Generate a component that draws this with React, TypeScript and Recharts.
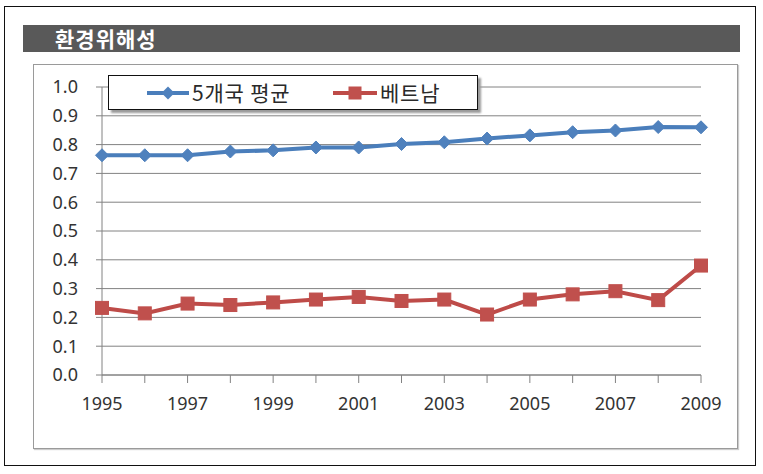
import React from 'react';
import { LineChart, Line, XAxis, YAxis, CartesianGrid } from 'recharts';

const years = ['1995', '1996', '1997', '1998', '1999', '2000', '2001', '2002', '2003', '2004', '2005', '2006', '2007', '2008', '2009'];
const avg5 = [0.763, 0.763, 0.763, 0.776, 0.78, 0.79, 0.79, 0.802, 0.808, 0.821, 0.832, 0.843, 0.849, 0.861, 0.86];
const vietnam = [0.233, 0.214, 0.248, 0.243, 0.252, 0.262, 0.271, 0.257, 0.262, 0.21, 0.262, 0.28, 0.291, 0.26, 0.38];
const yTicks = [0, 0.1, 0.2, 0.3, 0.4, 0.5, 0.6, 0.7, 0.8, 0.9, 1.0];
const seriesNames = ['5개국 평균', '베트남'];
const titleText = '환경위해성';

const BLUE = '#4A7EBB';
const BLUE_DOT = '#4F81BD';
const RED = '#BE4B48';
const RED_DOT = '#C0504D';

const data = years.map((y, i) => ({ year: y, avg: avg5[i], vn: vietnam[i] }));

const Diamond = (props: any) => {
  const { cx, cy, index } = props;
  if (cx == null || cy == null) return null;
  const r = 6.5;
  return (
    <polygon
      key={`d-${index}`}
      points={`${cx},${cy - r} ${cx + r},${cy} ${cx},${cy + r} ${cx - r},${cy}`}
      fill={BLUE_DOT}
      stroke={BLUE_DOT}
      strokeWidth={1}
    />
  );
};

const Square = (props: any) => {
  const { cx, cy, index } = props;
  if (cx == null || cy == null) return null;
  const s = 6.5;
  return <rect key={`s-${index}`} x={cx - s} y={cy - s} width={s * 2} height={s * 2} fill={RED_DOT} stroke={RED_DOT} strokeWidth={1} />;
};

const axisColor = '#828282';
const tickFont = { fontFamily: '"Noto Sans", sans-serif', fontSize: 18, fill: '#333' };

export default function App() {
  return (
    <div style={{ position: 'absolute', left: 0, top: 0, width: 763, height: 474, background: '#fff', overflow: 'hidden' }}>
      {/* outer frame */}
      <div style={{ position: 'absolute', left: 4, top: 6, width: 750, height: 458, border: '1.5px solid #111' }} />
      {/* title bar */}
      <div
        style={{
          position: 'absolute',
          left: 23,
          top: 25,
          width: 717,
          height: 27,
          background: '#595959',
          color: '#fff',
          fontFamily: '"Noto Sans CJK KR", sans-serif',
          fontWeight: 700,
          fontSize: 21,
          letterSpacing: 1,
          lineHeight: '27px',
          paddingLeft: 32,
          boxSizing: 'border-box',
        }}
      >
        {titleText}
      </div>
      {/* inner box */}
      <div style={{ position: 'absolute', left: 33, top: 64, width: 703, height: 383, border: '1px solid #9a9a9a', boxShadow: '1px 1px 1px #ccc' }} />
      <div style={{ position: 'absolute', left: 0, top: 0 }}>
        <LineChart width={763} height={474} data={data} margin={{ top: 87, right: 62, bottom: 69, left: 42 }}>
          <CartesianGrid vertical={false} stroke={axisColor} strokeWidth={1} />
          <XAxis
            dataKey="year"
            height={30}
            stroke={axisColor}
            tickLine={{ stroke: axisColor }}
            tickSize={8}
            tickMargin={14}
            interval={0}
            tick={tickFont}
            tickFormatter={(v: string, i: number) => (i % 2 === 0 ? v : '')}
          />
          <YAxis
            width={60}
            domain={[0, 1]}
            ticks={yTicks}
            stroke={axisColor}
            tickLine={{ stroke: axisColor }}
            tickSize={6}
            tickMargin={18}
            tick={tickFont}
            tickFormatter={(v: number) => v.toFixed(1)}
            interval={0}
          />
          <Line
            type="linear"
            dataKey="avg"
            name={seriesNames[0]}
            stroke={BLUE}
            strokeWidth={4}
            dot={<Diamond />}
            activeDot={false}
            isAnimationActive={false}
          />
          <Line
            type="linear"
            dataKey="vn"
            name={seriesNames[1]}
            stroke={RED}
            strokeWidth={4}
            dot={<Square />}
            activeDot={false}
            isAnimationActive={false}
          />
        </LineChart>
      </div>
      {/* legend */}
      <div
        style={{
          position: 'absolute',
          left: 108,
          top: 75,
          width: 368,
          height: 33,
          border: '1.5px solid #111',
          background: '#fff',
          boxShadow: '3px 3px 2px #9a9a9a',
          fontFamily: '"Noto Sans CJK KR", sans-serif',
          fontSize: 21,
          letterSpacing: 0.8,
          color: '#2a2a2a',
        }}
      >
        <svg style={{ position: 'absolute', left: 38, top: 8 }} width={42} height={18}>
          <line x1={0} y1={9} x2={42} y2={9} stroke={BLUE} strokeWidth={4} />
          <polygon points="21,2.5 27.5,9 21,15.5 14.5,9" fill={BLUE_DOT} />
        </svg>
        <div style={{ position: 'absolute', left: 83, top: 2, lineHeight: '28px', whiteSpace: 'nowrap' }}>{seriesNames[0]}</div>
        <svg style={{ position: 'absolute', left: 224, top: 8 }} width={44} height={18}>
          <line x1={0} y1={9} x2={44} y2={9} stroke={RED} strokeWidth={4} />
          <rect x={15.5} y={2.5} width={13} height={13} fill={RED_DOT} />
        </svg>
        <div style={{ position: 'absolute', left: 271, top: 2, lineHeight: '28px', whiteSpace: 'nowrap' }}>{seriesNames[1]}</div>
      </div>
    </div>
  );
}
